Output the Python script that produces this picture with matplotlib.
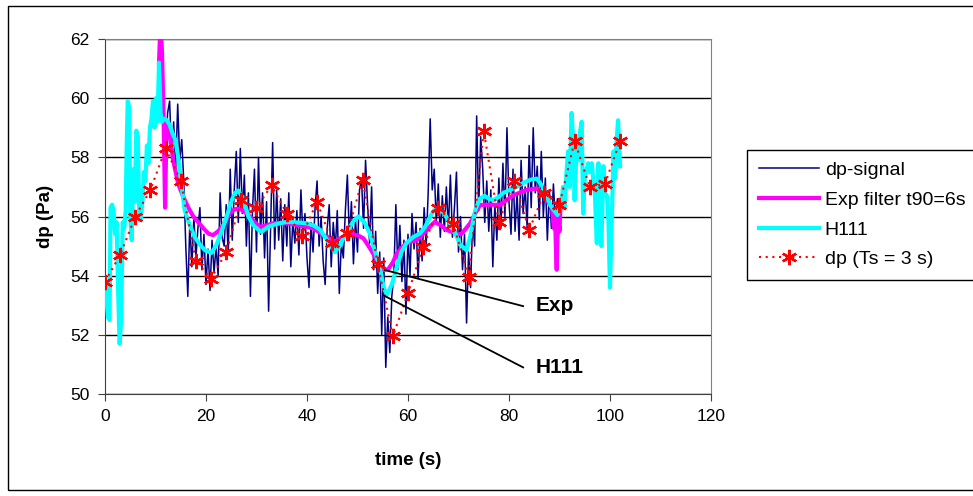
import numpy as np
import matplotlib
matplotlib.use('agg')
from matplotlib import pyplot as plt
from matplotlib.patches import Rectangle

plt.rcParams['font.family'] = ['Liberation Sans', 'DejaVu Sans']

# ---- data ----
# raw dp-signal, sampled every 0.4 s from 11.6 s to 90.0 s
sig_t = np.round(np.arange(11.6, 90.01, 0.4), 1)
sig_v = [
    59.3, 58.2, 59.5, 59.9, 58.0, 59.2, 57.6, 59.8, 57.9, 58.6,
    57.2, 55.0, 53.3, 55.8, 54.3, 56.0, 54.6, 55.6, 56.3, 54.2,
    55.4, 53.7, 54.9, 53.5, 55.2, 54.1, 55.0, 54.0, 56.8, 55.3,
    55.0, 56.4, 54.7, 57.6, 55.2, 56.9, 58.2, 55.8, 58.3, 56.1,
    57.4, 55.0, 56.8, 53.3, 56.2, 57.6, 54.8, 58.0, 55.4, 56.8,
    54.6, 56.5, 52.8, 55.7, 58.5, 54.9, 56.9, 55.2, 56.6, 54.5,
    56.4, 55.0, 56.8, 54.3, 55.9, 55.1, 56.2, 54.7, 56.9, 55.3,
    56.1, 54.6, 53.6, 55.8, 54.8, 56.3, 57.2, 55.0, 56.0, 54.5,
    53.7, 55.6, 56.4, 54.3, 55.8, 54.9, 56.2, 53.4, 55.1, 54.6,
    56.2, 57.4, 55.2, 56.5, 54.4, 55.9, 54.8, 56.9, 57.3, 55.6,
    57.9, 56.4, 55.1, 57.0, 54.2, 55.5, 53.4, 54.8, 52.0, 54.6,
    50.9, 52.6, 51.4, 53.3, 54.0, 56.4, 54.2, 55.7, 53.8, 55.2,
    52.7, 55.4, 54.0, 56.1, 54.9, 55.8, 53.9, 55.6, 54.5, 56.3,
    55.0, 56.8, 59.3, 56.9, 57.6, 55.8, 57.1, 55.3, 56.7, 55.5,
    57.0, 55.6, 57.4, 55.3, 56.3, 57.5, 54.8, 56.0, 54.2, 55.4,
    52.4, 54.8, 53.6, 55.9, 55.0, 59.4, 56.2, 58.7, 57.6, 55.8,
    57.2, 55.5, 56.9, 54.3, 56.4, 55.2, 57.3, 55.6, 57.8, 56.0,
    59.0, 56.5, 55.4, 57.6, 55.5, 56.8, 55.2, 57.9, 56.1, 57.0,
    55.6, 58.4, 56.3, 59.0, 56.8, 57.7, 55.9, 58.2, 56.0, 57.3,
    55.2, 56.9, 55.6, 57.1, 55.8, 56.6, 56.3,
]

# exponential filter t90 = 6 s
exp_t = [10.7, 11.0, 11.3, 11.6, 11.9, 12.2, 12.6, 13.0, 13.5, 14.0, 14.5,
         15.5, 16.5, 17.5, 18.5, 19.5, 20.5, 21.4, 22.4, 23.4, 24.7, 25.7,
         26.7, 27.7, 28.7, 29.7, 30.7, 32.0, 33.3, 36.0, 38.6, 41.2, 42.6,
         43.9, 45.5, 46.5, 47.9, 49.2, 50.2, 51.2, 52.2, 53.1, 54.1, 55.1,
         56.1, 57.0, 57.8, 58.8, 59.7, 61.7, 63.7, 65.3, 66.5, 67.7, 69.6,
         70.5, 71.5, 72.3, 73.3, 74.3, 76.2, 78.2, 79.5, 80.9, 83.5, 85.5,
         86.5, 87.5, 88.5, 88.9, 89.1, 89.3, 89.45, 89.6, 89.8, 90.0, 90.2]
exp_v = [61.2, 62.6, 61.5, 59.4, 56.3, 59.2, 59.1, 58.6, 57.9, 57.5, 57.1,
         56.67, 56.3, 56.0, 55.8, 55.6, 55.42, 55.37, 55.5, 55.7, 56.1, 56.25,
         56.27, 56.15, 56.0, 55.8, 55.65, 55.7, 55.77, 55.77, 55.7, 55.6, 55.45,
         55.3, 55.15, 55.25, 55.4, 55.4, 55.35, 55.26, 55.0, 54.75, 54.4, 54.19,
         54.22, 54.45, 54.75, 54.95, 55.1, 55.2, 55.54, 55.82, 55.7, 55.54, 55.43,
         55.4, 55.6, 55.77, 56.1, 56.39, 56.4, 56.39, 56.55, 56.72, 56.9, 56.95,
         56.8, 56.55, 56.3, 55.6, 56.2, 54.9, 54.2, 55.3, 56.0, 55.5, 56.4]

# H111 filter (raw at start and end)
h_t = [0.0, 0.3, 0.6, 0.9, 1.1, 1.4, 1.7, 2.0, 2.3, 2.6, 2.9, 3.2, 3.5, 3.8,
       4.1, 4.3, 4.5, 4.8, 5.0, 5.3, 5.6, 5.9, 6.2, 6.5, 6.8, 7.1, 7.4, 7.7,
       8.0, 8.3, 8.6, 8.9, 9.2, 9.5, 9.8, 10.1, 10.4, 10.7, 11.0, 11.3, 11.6,
       11.9, 12.2, 12.8, 13.4, 13.9, 14.4, 14.85, 15.3, 15.8, 16.8, 17.8, 18.8,
       19.8, 21.1, 22.1, 23.1, 24.1, 25.1, 25.8, 26.4, 27.4, 28.4, 29.4, 30.4,
       31.0, 32.3, 34.0, 36.0, 38.0, 39.9, 41.3, 42.6, 44.0, 45.5, 46.5, 47.3,
       48.2, 49.2, 50.2, 51.4, 52.5, 53.5, 54.5, 55.2, 55.8, 56.8, 57.8, 58.7,
       59.7, 61.0, 62.4, 63.4, 64.4, 65.2, 66.0, 67.2, 68.3, 69.6, 70.3, 71.0,
       71.6, 72.3, 73.3, 74.2, 75.2, 76.0, 76.9, 77.9, 78.9, 80.9, 83.2, 84.4,
       85.5, 86.5, 87.5, 88.3, 89.1, 89.6, 90.1,
       90.4, 90.7, 91.0, 91.4, 91.7, 92.0, 92.4, 92.7, 93.0, 93.4, 93.7, 94.0,
       94.4, 94.7, 95.0, 95.4, 95.7, 96.0, 96.4, 96.7, 97.0, 97.4, 97.7, 98.0,
       98.3, 98.7, 99.0, 99.4, 99.7, 100.0, 100.3, 100.7, 101.0, 101.3, 101.6,
       102.0]
h_v = [53.9, 53.2, 52.6, 52.5, 56.3, 56.4, 56.2, 55.4, 55.8, 53.5, 51.7, 52.5,
       55.8, 55.6, 56.2, 58.4, 59.9, 59.7, 56.0, 55.2, 57.6, 56.5, 58.9, 58.7,
       56.0, 55.9, 56.5, 57.5, 57.2, 58.4, 57.8, 59.0, 59.3, 59.9, 59.0, 60.0,
       59.2, 61.2, 59.5, 59.2, 59.3,
       59.3, 59.26, 59.1, 58.8, 58.6, 58.1, 57.5, 56.85, 56.2, 55.7, 55.3, 55.05,
       54.86, 54.77, 55.05, 55.5, 56.0, 56.55, 56.8, 56.88, 56.6, 56.0, 55.7,
       55.55, 55.48, 55.65, 55.75, 55.82, 55.8, 55.77, 55.7, 55.55, 55.2, 54.8,
       55.0, 55.3, 55.55, 55.85, 56.0, 55.8, 55.4, 54.8, 54.2, 53.6, 53.35, 53.7,
       54.3, 54.8, 55.1, 55.3, 55.43, 55.65, 56.0, 56.22, 56.3, 56.1, 55.77,
       55.35, 55.05, 54.95, 54.86, 55.3, 56.2, 56.6, 56.7, 56.6, 56.55, 56.65,
       56.8, 56.95, 57.17, 57.25, 57.28, 57.05, 56.67, 56.35, 56.16, 56.05, 56.3,
       56.4, 57.0, 56.3, 57.5, 58.2, 57.0, 59.5, 58.6, 56.55, 58.4, 57.9, 58.8,
       59.2, 56.1, 57.3, 57.6, 57.8, 57.5, 57.8, 57.2, 56.8, 55.1, 57.8, 56.0,
       55.0, 57.7, 56.8, 56.7, 55.8, 53.6, 55.5, 58.2, 57.3, 58.5, 59.25, 57.7]

# dp sampled with Ts = 3 s
ts_t = list(range(0, 103, 3))
ts_v = [53.8, 54.7, 56.0, 56.9, 58.3, 57.2, 54.5, 53.9, 54.8, 56.55, 56.3, 57.05,
        56.1, 55.35, 56.5, 55.1, 55.45, 57.25, 54.4, 51.95, 53.4, 54.97, 56.3,
        55.75, 53.95, 58.9, 55.8, 57.2, 55.55, 56.8, 56.4, 58.55, 57.0, 57.1,
        58.55]

x_ticks = [0, 20, 40, 60, 80, 100, 120]
y_ticks = [50, 52, 54, 56, 58, 60, 62]

# annotation anchors (curve point -> line end -> label)
exp_note = ((55.45, 54.19), (82.8, 52.97), (85.2, 53.0))
h111_note = ((55.1, 53.34), (82.8, 50.9), (85.2, 50.9))

fig = plt.figure(figsize=(9.73, 4.96), dpi=100)
ax = fig.add_subplot(1, 1, 1)
fig.subplots_adjust(left=0.1079, right=0.7307, bottom=0.2056, top=0.9214)

# outer chart border (runs off the right edge like the original)
fig.patches.append(Rectangle((8 / 973, 6 / 496), 1.2, 1 - 12 / 496,
                             transform=fig.transFigure, fill=False,
                             edgecolor='black', lw=1.0))

ax.plot(sig_t, sig_v, color='#000080', lw=1.1, label='dp-signal', zorder=2)
ax.plot(exp_t, exp_v, color='#FF00FF', lw=3.0, label='Exp filter t90=6s', zorder=3)
ax.plot(h_t, h_v, color='#00FFFF', lw=3.0, label='H111', zorder=4)
ax.plot(ts_t, ts_v, color='#FF0000', lw=1.5, ls=(0, (1, 2.2)), marker=(6, 2, 0),
        ms=11, mew=1.7, label='dp (Ts = 3 s)', zorder=5)

for start, end, txt_pos in [exp_note, h111_note]:
    ax.plot([start[0], end[0]], [start[1], end[1]], color='black', lw=1.3, zorder=6)
ax.text(*exp_note[2], 'Exp', fontsize=15, fontweight='bold', va='center', ha='left')
ax.text(*h111_note[2], 'H111', fontsize=15, fontweight='bold', va='center', ha='left')

ax.set_xlim(0, 120)
ax.set_ylim(50, 62)
ax.set_xticks(x_ticks)
ax.set_yticks(y_ticks)
ax.tick_params(labelsize=12.5, direction='out', length=5, color='#404040', pad=6)
ax.yaxis.grid(True, color='black', lw=1.0)
ax.set_axisbelow(True)
for side in ['top', 'right']:
    ax.spines[side].set_color('#808080')
for side in ['left', 'bottom']:
    ax.spines[side].set_color('#404040')

ax.set_xlabel('time (s)', fontsize=13.5, fontweight='bold', labelpad=20)
ax.set_ylabel('dp (Pa)', fontsize=13.5, fontweight='bold', labelpad=12)

leg = ax.legend(loc='upper left', bbox_to_anchor=(747 / 973, 1 - 150 / 496),
                bbox_transform=fig.transFigure, fontsize=14, frameon=True,
                fancybox=False, framealpha=1, edgecolor='black',
                handlelength=3.1, handletextpad=0.3, labelspacing=0.62,
                borderpad=0.6, borderaxespad=0)
leg.get_frame().set_linewidth(1.0)

fig.savefig('out.png', dpi=100)
